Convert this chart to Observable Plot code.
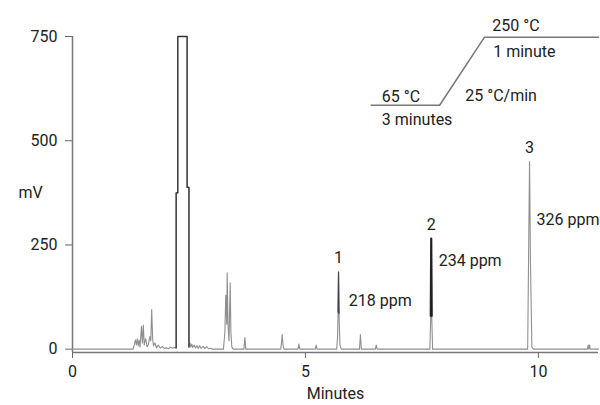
<!DOCTYPE html>
<html>
<head>
<meta charset="utf-8">
<script src="https://cdn.jsdelivr.net/npm/d3@7"></script>
<script src="https://cdn.jsdelivr.net/npm/@observablehq/plot@0.6"></script>
<style>
  html, body { margin: 0; padding: 0; background: #fff; }
  #chart { width: 600px; height: 405px; }
</style>
</head>
<body>
<div id="chart"></div>
<script>
// ---- Chromatogram trace (minutes, mV) ----
const times = [
  0, 1.30, 1.33, 1.35, 1.37, 1.39, 1.41, 1.43, 1.45, 1.48, 1.50, 1.52, 1.54, 1.57, 1.60, 1.63, 1.66, 1.68, 1.70, 1.72, 1.74, 1.77, 1.80, 1.84, 1.88, 1.93, 1.97, 2.02, 2.06, 2.10, 2.15, 2.19, 2.22,
  2.225, 2.225, 2.26, 2.26, 2.46, 2.46, 2.50, 2.50,
  2.52, 2.54, 2.56, 2.58, 2.61, 2.64, 2.67, 2.70, 2.73, 2.76, 2.80, 2.84, 2.88, 2.92, 2.97, 3.00,
  3.24, 3.27, 3.29, 3.31, 3.32, 3.34, 3.36, 3.385, 3.40, 3.42, 3.45,
  3.68, 3.70, 3.72,
  4.47, 4.49, 4.50, 4.52, 4.54,
  4.84, 4.86, 4.88,
  5.21, 5.23, 5.25,
  5.67, 5.69, 5.70, 5.71, 5.72, 5.74, 5.77,
  6.16, 6.18, 6.20,
  6.50, 6.52, 6.54,
  7.67, 7.69, 7.70, 7.71, 7.73,
  9.77, 9.79, 9.81, 9.83, 9.86, 9.90,
  11.05, 11.07, 11.08, 11.10, 11.11, 11.29
];
const signal = [
  0, 0, 12, 22, 10, 25, 8, 22, 5, 55, 15, 58, 10, 25, 6, 12, 30, 20, 95, 25, 8, 15, 3, 10, 3, 6, 2, 3, 1, 5, 2, 4, 3,
  3, 375, 375, 750, 750, 388, 388, 5,
  15, 5, 12, 4, 10, 3, 8, 2, 8, 2, 7, 2, 6, 1, 2, 0,
  0, 40, 129, 60, 183, 50, 20, 159, 40, 5, 0,
  0, 28, 0,
  0, 20, 35, 8, 0,
  0, 12, 0,
  0, 10, 0,
  0, 30, 89, 185, 85, 10, 0,
  0, 35, 0,
  0, 10, 0,
  0, 80, 265, 80, 0,
  0, 230, 450, 206, 5, 0,
  0, 10, 0, 10, 0, 0
];

// ---- Peak annotations ----
const peakIds = ["1", "2", "3"];
const peakTimes = [5.71, 7.70, 9.81];
const peakHeights = [185, 265, 450];
const peakConc = ["218 ppm", "234 ppm", "326 ppm"];

// ---- Oven temperature program (inset) ----
const tempLabels = ["65 °C", "250 °C"];
const holdLabels = ["3 minutes", "1 minute"];
const rampLabel = "25 °C/min";

// ---- Axis ticks ----
const xTicks = [0, 5, 10];
const yTicks = [0, 250, 500, 750];

const trace = times.map((t, i) => ({t, v: signal[i]}));
const peaks = peakIds.map((id, i) => ({id, t: peakTimes[i], h: peakHeights[i], conc: peakConc[i]}));

// label anchors for the concentration texts (chart units)
const concAnchor = [{t: 5.93, v: 116}, {t: 7.86, v: 211}, {t: 9.96, v: 309}];
const concText = peaks.map((p, i) => ({...concAnchor[i], conc: p.conc}));

// inset drawn as a schematic in chart units
const inset = [
  {t: 6.41, v: 585}, {t: 7.88, v: 585}, {t: 8.84, v: 748}, {t: 11.29, v: 748}
];
const insetText = [
  {label: tempLabels[0], t: 6.64, v: 606},
  {label: holdLabels[0], t: 6.64, v: 549},
  {label: rampLabel, t: 8.43, v: 607},
  {label: tempLabels[1], t: 9.01, v: 775},
  {label: holdLabels[1], t: 9.03, v: 712}
];

const XMAX = 11.29, YMIN = -8;
const FS = 16;

const chart = Plot.plot({
  width: 600,
  height: 405,
  marginLeft: 72,
  marginRight: 2,
  marginTop: 36,
  marginBottom: 53,
  x: {domain: [0, XMAX]},
  y: {domain: [YMIN, 750]},
  style: {fontFamily: "Roboto, 'Liberation Sans', sans-serif", fontSize: FS + "px", color: "#222", background: "#fff", overflow: "visible"},
  marks: [
    Plot.axisX({ticks: xTicks, tickSize: 6, tickPadding: 7, stroke: "#666", fill: "#222", label: null, fontSize: FS}),
    Plot.axisY({ticks: yTicks, tickSize: 7, tickPadding: 8, stroke: "#666", fill: "#222", label: null, fontSize: FS}),
    Plot.ruleX([0], {y1: YMIN, y2: 750, stroke: "#777", strokeWidth: 1.5}),
    Plot.ruleY([YMIN], {x1: 0, x2: XMAX, stroke: "#777", strokeWidth: 1.5}),
    Plot.line(trace, {x: "t", y: "v", stroke: "#8f8f8f", strokeWidth: 1.1}),
    Plot.line(trace.filter(d => d.t >= 2.2 && d.t <= 2.5), {x: "t", y: "v", stroke: "#333", strokeWidth: 1.3}),
    Plot.line(trace.filter(d => d.t >= 7.69 && d.t <= 7.71), {x: "t", y: "v", stroke: "#222", strokeWidth: 2.2}),
    Plot.line(trace.filter(d => d.t >= 5.70 && d.t <= 5.72), {x: "t", y: "v", stroke: "#444", strokeWidth: 1.2}),
    Plot.text(peaks, {x: "t", y: "h", text: "id", dy: -14, fill: "#222", fontSize: FS}),
    Plot.text(concText, {x: "t", y: "v", text: "conc", textAnchor: "start", fill: "#222", fontSize: FS}),
    Plot.line(inset, {x: "t", y: "v", stroke: "#777", strokeWidth: 1.5}),
    Plot.text(insetText, {x: "t", y: "v", text: "label", textAnchor: "start", fill: "#222", fontSize: FS}),
    Plot.text(["Minutes"], {frameAnchor: "bottom", dy: 46, fill: "#222", fontSize: FS}),
    Plot.text(["mV"], {frameAnchor: "left", dx: -54, dy: -2, fill: "#222", fontSize: FS})
  ]
});
document.getElementById("chart").appendChild(chart);
</script>
</body>
</html>
